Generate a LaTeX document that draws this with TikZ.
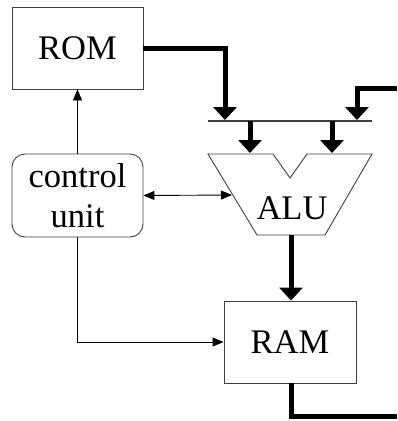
\documentclass[tikz,border=0pt]{standalone}
\usepackage{fontspec}
\setmainfont{Liberation Serif}
\usetikzlibrary{arrows.meta}
\begin{document}
\begin{tikzpicture}[x=1pt,y=-1pt,
  box/.style={draw=black!75,line width=0.9pt,rectangle,inner sep=0pt,font=\fontsize{34.5}{40}\selectfont},
  rbox/.style={box,rounded corners=13pt,align=center},
  thick bus/.style={line width=5pt,-{Triangle[width=23pt,length=13pt]}},
  plainthick/.style={line width=5pt},
  thin/.style={line width=0.9pt,-{Triangle[width=9pt,length=11pt]}},
  thinboth/.style={line width=0.9pt,{Triangle[width=9pt,length=11pt]}-{Triangle[width=9pt,length=11pt]}},
  lbl/.style={font=\fontsize{34.5}{40}\selectfont,inner sep=0pt}]
\useasboundingbox (0,0) rectangle (397,421);
\node[box,minimum width=131pt,minimum height=82pt] (rom) at (77.5,48) {ROM};
\node[rbox,minimum width=131pt,minimum height=83pt] (cu) at (77.5,195.5) {control\\unit};
\node[box,minimum width=132pt,minimum height=82pt] (ram) at (290,342) {RAM};
% ALU shape
\coordinate (atl) at (208,154);
\coordinate (atr) at (372,154);
\coordinate (abl) at (257,235);
\coordinate (abr) at (325,235);
\coordinate (n1) at (273,154);
\coordinate (n2) at (307,154);
\coordinate (nb) at (290,178);
\draw[black!75,line width=0.9pt] (atl) -- (n1) -- (nb) -- (n2) -- (atr) -- (abr) -- (abl) -- cycle;
\node[lbl] (alu) at (292,208) {ALU};
\coordinate (aluleft) at (232,195);
\coordinate (alubot) at (291,235);
% bus
\coordinate (busL) at (208,121);
\coordinate (busR) at (372,121);
\draw[black!75,line width=1.2pt] (busL) -- (busR);
\coordinate (romin) at (225,120);
\coordinate (extin) at (397,88);
\coordinate (extdown) at (357,120);
\coordinate (b1) at (250,121);
\coordinate (b2) at (332,121);
\coordinate (a1) at (250,153);
\coordinate (a2) at (332,153);
\coordinate (ramout) at (397,416);
\draw[thick bus] (rom.east) -| (romin);
\draw[thick bus] (extin) -| (extdown);
\draw[thick bus] (b1) -- (a1);
\draw[thick bus] (b2) -- (a2);
\draw[thick bus] (alubot) -- (ram.north -| alubot);
\draw[plainthick] (ram.south -| alubot) |- (ramout);
\draw[thin] (cu.north) -- (rom.south);
\draw[thin] (cu.south) |- (ram.west);
\draw[thinboth] (cu.east) -- (aluleft);
\end{tikzpicture}
\end{document}
